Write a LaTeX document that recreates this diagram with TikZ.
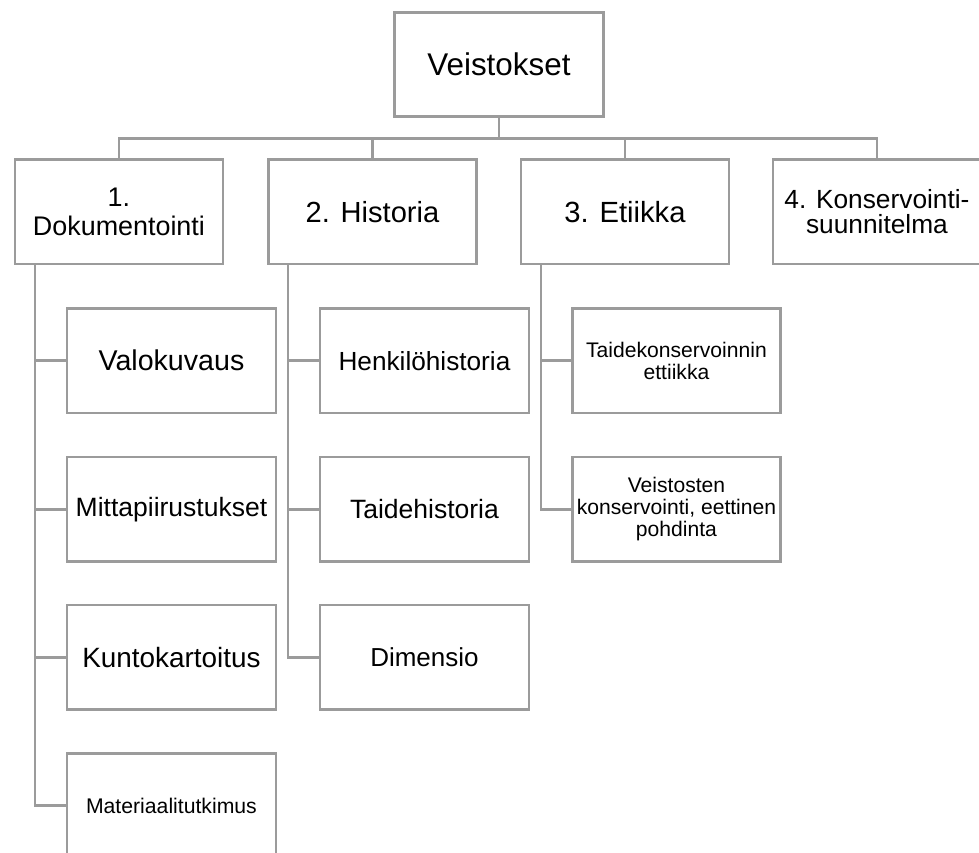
\documentclass[tikz,border=0pt]{standalone}
\usepackage{fontspec}
\setmainfont{Liberation Sans}
\definecolor{lg}{RGB}{155,155,155}
\begin{document}
\begin{tikzpicture}[x=1pt,y=-1pt,
  box/.style={draw=lg,line width=2.9pt,fill=white,inner sep=0pt,
    minimum width=208pt,minimum height=104.5pt,align=center,anchor=north west},
  conn/.style={draw=lg,line width=2.9pt}]
\useasboundingbox (0,0) rectangle (979,852);
\clip (0,0) rectangle (979,852);
% root
\node[box,minimum width=209pt,minimum height=104pt,font=\fontsize{31.4}{33}\selectfont] (top) at (393,11) {Veistokset};
% level 1
\node[box,font=\fontsize{26.9}{28.5}\selectfont] (d1) at (13.5,158) {1.\\Dokumentointi};
\node[box,font=\fontsize{29.1}{31}\selectfont] (d2) at (267,158) {2. Historia};
\node[box,font=\fontsize{29.2}{31}\selectfont] (d3) at (519.5,158) {3. Etiikka};
\node[box,font=\fontsize{26.3}{25}\selectfont] (d4) at (771.5,158) {4. Konservointi-\\suunnitelma};
\foreach \n in {d1,d2,d3,d4}
  \draw[conn] (top.south) -- ++(0,21) -| (\n.north);
% column 1
\node[box,minimum width=209pt,font=\fontsize{28.6}{30}\selectfont] (c11) at (65.5,307) {Valokuvaus};
\node[box,minimum width=209pt,font=\fontsize{26.5}{28}\selectfont] (c12) at (65.5,455.5) {Mittapiirustukset};
\node[box,minimum width=209pt,font=\fontsize{27.9}{29}\selectfont] (c13) at (65.5,603.5) {Kuntokartoitus};
\node[box,minimum width=209pt,font=\fontsize{21.2}{22}\selectfont] (c14) at (65.5,752) {Materiaalitutkimus};
% column 2
\node[box,minimum width=209pt,font=\fontsize{26.2}{28}\selectfont] (c21) at (318.5,307) {Henkilöhistoria};
\node[box,minimum width=209pt,font=\fontsize{26.5}{28}\selectfont] (c22) at (318.5,455.5) {Taidehistoria};
\node[box,minimum width=209pt,font=\fontsize{26}{28}\selectfont] (c23) at (318.5,603.5) {Dimensio};
% column 3
\node[box,minimum width=208pt,font=\fontsize{21.1}{21.8}\selectfont] (c31) at (571,307) {Taidekonservoinnin\\ettiikka};
\node[box,minimum width=208pt,font=\fontsize{21.1}{21.8}\selectfont] (c32) at (571,455.5) {Veistosten\\konservointi, eettinen\\pohdinta};
% connectors
\foreach \c in {c11,c12,c13,c14}
  \draw[conn] (d1.south west) ++(21.5,0) |- (\c.west);
\foreach \c in {c21,c22,c23}
  \draw[conn] (d2.south west) ++(21,0) |- (\c.west);
\foreach \c in {c31,c32}
  \draw[conn] (d3.south west) ++(21.5,0) |- (\c.west);
\end{tikzpicture}
\end{document}
